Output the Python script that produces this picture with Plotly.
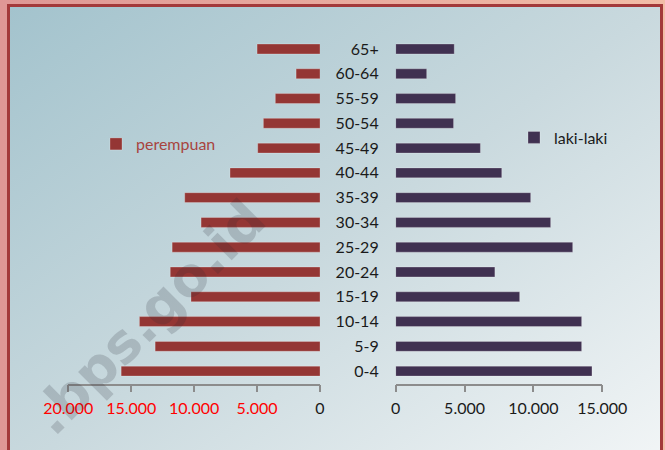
import base64
import plotly.graph_objects as go

age_groups = ["0-4", "5-9", "10-14", "15-19", "20-24", "25-29", "30-34",
              "35-39", "40-44", "45-49", "50-54", "55-59", "60-64", "65+"]
perempuan = [15800, 13100, 14350, 10250, 11900, 11750, 9450,
             10750, 7150, 4950, 4500, 3550, 1900, 5000]
laki_laki = [14250, 13500, 13500, 9000, 7200, 12850, 11250,
             9800, 7700, 6150, 4200, 4350, 2250, 4250]

left_tickvals = [20000, 15000, 10000, 5000, 0]
left_ticktext = ["<span style='color:#ff0000'>20.000</span>",
                 "<span style='color:#ff0000'>15.000</span>",
                 "<span style='color:#ff0000'>10.000</span>",
                 "<span style='color:#ff0000'>5.000</span>",
                 "0"]
right_tickvals = [0, 5000, 10000, 15000]
right_ticktext = ["0", "5.000", "10.000", "15.000"]

W, H = 665, 450

svg = f"""<svg xmlns='http://www.w3.org/2000/svg' width='{W}' height='{H}' viewBox='0 0 {W} {H}' preserveAspectRatio='none'>
<defs>
<linearGradient id='p' x1='0' y1='0' x2='1' y2='0'>
<stop offset='0' stop-color='#df9795'/><stop offset='1' stop-color='#f2bda7'/></linearGradient>
<linearGradient id='b' x1='0' y1='0' x2='1' y2='1'>
<stop offset='0' stop-color='#a3c3cd'/><stop offset='0.5' stop-color='#c9d9de'/><stop offset='1' stop-color='#f3f6f7'/></linearGradient>
</defs>
<rect x='0' y='0' width='{W}' height='{H}' fill='url(#p)'/>
<rect x='7' y='4' width='656' height='470' fill='#a3393a'/>
<rect x='10' y='7' width='650' height='470' fill='url(#b)'/>
</svg>"""
bg_uri = "data:image/svg+xml;base64," + base64.b64encode(svg.encode()).decode()

FONT = "Lato, 'Open Sans', sans-serif"
RED = "#943634"
PURPLE = "#403151"

fig = go.Figure()
fig.add_trace(go.Bar(
    y=age_groups, x=perempuan, orientation="h", name="perempuan",
    marker=dict(color=RED, line=dict(color="rgba(255,255,255,0.25)", width=1)),
    width=0.4, xaxis="x", yaxis="y", legend="legend",
))
fig.add_trace(go.Bar(
    y=age_groups, x=laki_laki, orientation="h", name="laki-laki",
    marker=dict(color=PURPLE, line=dict(color="rgba(255,255,255,0.25)", width=1)),
    width=0.4, xaxis="x2", yaxis="y2", legend="legend2",
))

axis_common = dict(
    showgrid=False, zeroline=False, showline=True, linecolor="#8c8c8c",
    linewidth=1.5, ticks="outside", ticklen=7, tickwidth=1.5, tickcolor="#8c8c8c",
    tickfont=dict(family=FONT, size=16, color="#1a1a1a"), automargin=False,
    fixedrange=True, ticklabelstandoff=3,
)

y_top = 36.6
y_bot = 383.5

fig.update_layout(
    width=W, height=H,
    margin=dict(l=0, r=0, t=0, b=0),
    paper_bgcolor="#ffffff", plot_bgcolor="rgba(0,0,0,0)",
    font=dict(family=FONT, size=16, color="#1a1a1a"),
    barmode="overlay",
    xaxis=dict(domain=[68.3 / W, 320 / W], range=[20000, 0],
               tickmode="array", tickvals=left_tickvals, ticktext=left_ticktext,
               anchor="y", **axis_common),
    xaxis2=dict(domain=[395.7 / W, 602.3 / W], range=[0, 15000],
                tickmode="array", tickvals=right_tickvals, ticktext=right_ticktext,
                anchor="y2", **axis_common),
    yaxis=dict(domain=[1 - y_bot / H, 1 - y_top / H], type="category",
               categoryorder="array", categoryarray=age_groups,
               range=[-0.5, len(age_groups) - 0.5], anchor="x",
               showticklabels=False, showline=False, showgrid=False,
               zeroline=False, ticks="", automargin=False, fixedrange=True),
    yaxis2=dict(domain=[1 - y_bot / H, 1 - y_top / H], type="category",
                categoryorder="array", categoryarray=age_groups,
                range=[-0.5, len(age_groups) - 0.5], anchor="x2",
                side="left", showline=False, showgrid=False, zeroline=False,
                ticks="", ticklabelstandoff=16, automargin=False, fixedrange=True,
                tickfont=dict(family=FONT, size=16, color="#1a1a1a")),
    legend=dict(x=96 / W, y=1 - 144 / H, xanchor="left", yanchor="middle",
                bgcolor="rgba(0,0,0,0)", font=dict(family=FONT, size=16, color="#a8443f"),
                itemclick=False, itemdoubleclick=False),
    legend2=dict(x=514 / W, y=1 - 137.5 / H, xanchor="left", yanchor="middle",
                 bgcolor="rgba(0,0,0,0)", font=dict(family=FONT, size=16, color="#1a1a1a"),
                 itemclick=False, itemdoubleclick=False),
    showlegend=True,
    images=[dict(source=bg_uri, xref="paper", yref="paper", x=0, y=1,
                 sizex=1, sizey=1, sizing="stretch", xanchor="left", yanchor="top",
                 layer="below")],
    annotations=[dict(text="<b>.bps.go.id</b>", xref="paper", yref="paper",
                      x=148 / W, y=1 - 317 / H, showarrow=False, textangle=-45,
                      font=dict(family="DejaVu Sans", size=54, color="rgba(40,40,50,0.18)"),
                      xanchor="center", yanchor="middle")],
)

fig.write_html("out.html", config={"displayModeBar": False})
